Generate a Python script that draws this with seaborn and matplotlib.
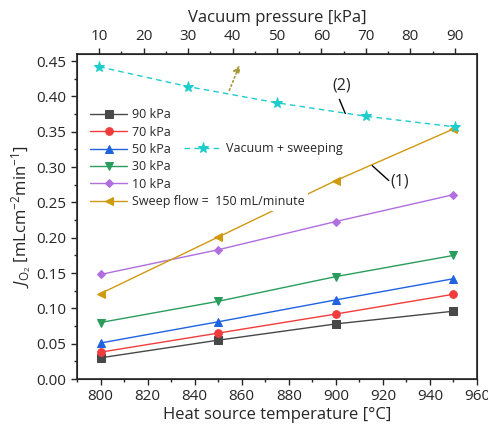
import numpy as np
import pandas as pd
import matplotlib
matplotlib.use("Agg")
import matplotlib.pyplot as plt
import seaborn as sns

# heat source temperature [C]
temps = [800, 850, 900, 950]
flux_90 = [0.030, 0.055, 0.078, 0.096]
flux_70 = [0.038, 0.065, 0.092, 0.120]
flux_50 = [0.051, 0.081, 0.112, 0.142]
flux_30 = [0.080, 0.110, 0.145, 0.175]
flux_10 = [0.148, 0.183, 0.223, 0.261]
flux_sweep = [0.121, 0.201, 0.281, 0.354]

# vacuum + sweeping vs vacuum pressure [kPa]
vac_p = [10, 30, 50, 70, 90]
flux_vac = [0.442, 0.414, 0.391, 0.372, 0.357]

sns.set_style("ticks")
plt.rcParams['font.family'] = ['Open Sans', 'DejaVu Sans']
plt.rcParams['mathtext.fontset'] = 'custom'
plt.rcParams['mathtext.rm'] = 'Open Sans'
plt.rcParams['mathtext.it'] = 'Open Sans:italic'

fig = plt.figure(figsize=(4.89, 4.26), dpi=100)
ax = fig.add_axes([0.1575, 0.1103, 0.818, 0.7627])

series = [
    ("90 kPa", flux_90, "#484848", "s"),
    ("70 kPa", flux_70, "#f03c3c", "o"),
    ("50 kPa", flux_50, "#1f63e0", "^"),
    ("30 kPa", flux_30, "#2a9d5c", "v"),
    ("10 kPa", flux_10, "#b06ee0", "D"),
    ("Sweep flow =  150 mL/minute", flux_sweep, "#d09a10", "<"),
]
for lab, vals, col, mk in series:
    df = pd.DataFrame({"T": temps, "J": vals})
    ms = 4.5 if mk == "D" else 5.5
    sns.lineplot(data=df, x="T", y="J", ax=ax, color=col, marker=mk,
                 markersize=ms, markeredgecolor=col, linewidth=1, label=lab)

ax.set_xlim(790, 960)
ax.set_ylim(0, 0.46)
ax.set_xticks(np.arange(800, 961, 20))
ax.set_xticks(np.arange(790, 961, 10), minor=True)
ax.set_yticks(np.arange(0, 0.451, 0.05))
ax.set_yticks(np.arange(0.025, 0.46, 0.05), minor=True)
ax.yaxis.set_major_formatter(matplotlib.ticker.FormatStrFormatter('%.2f'))
ax.set_xlabel("Heat source temperature [°C]", fontsize=12, labelpad=2)
ax.set_ylabel(r"$J_{\mathrm{O_2}}$ [mLcm$^{-2}$min$^{-1}$]", fontsize=12, labelpad=2)
ax.tick_params(which='major', length=4, width=1, labelsize=11, direction='out')
ax.tick_params(which='minor', length=2.5, width=1, direction='out')
for s in ax.spines.values():
    s.set_linewidth(1.2)
    s.set_visible(True)

leg1 = ax.legend(loc='center left', bbox_to_anchor=(0.01, 0.68), fontsize=9,
                 frameon=True, facecolor='white', edgecolor='none', framealpha=1,
                 handlelength=3, handletextpad=0.4, labelspacing=0.35,
                 borderpad=0.2)

ax2 = ax.twiny()
df_v = pd.DataFrame({"P": vac_p, "J": flux_vac})
sns.lineplot(data=df_v, x="P", y="J", ax=ax2, color="#1fcccc", marker="*",
             markersize=8, markeredgecolor="#1fcccc", linewidth=1,
             linestyle=(0, (4, 3)), label="Vacuum + sweeping")
ax2.set_xlim(5, 95)
ax2.set_ylim(0, 0.46)
ax2.set_xticks(np.arange(10, 91, 10))
ax2.set_xticks(np.arange(15, 91, 10), minor=True)
ax2.set_xlabel("Vacuum pressure [kPa]", fontsize=12, labelpad=5)
ax2.set_ylabel("")
ax2.tick_params(which='major', length=4, width=1, labelsize=11, direction='out')
ax2.tick_params(which='minor', length=2.5, width=1, direction='out')
ax2.legend(loc='center left', bbox_to_anchor=(0.245, 0.708), fontsize=9,
           frameon=True, facecolor='white', edgecolor='none', framealpha=1,
           handlelength=3, handletextpad=0.4, borderpad=0.2)

# annotations
ax.annotate("", xy=(859.5, 0.448), xytext=(854.3, 0.405),
            arrowprops=dict(arrowstyle="-|>", color="#a89a3a", linestyle=":",
                            lw=1.2, mutation_scale=10))
ax.text(902.5, 0.415, "(2)", fontsize=11.5, ha='center', va='center')
ax.plot([901.5, 904], [0.396, 0.376], color='black', lw=1)
ax.text(927, 0.279, "(1)", fontsize=11.5, ha='center', va='center')
ax.plot([915.5, 922.5], [0.302, 0.281], color='black', lw=1)

fig.savefig("out.png", dpi=100)
